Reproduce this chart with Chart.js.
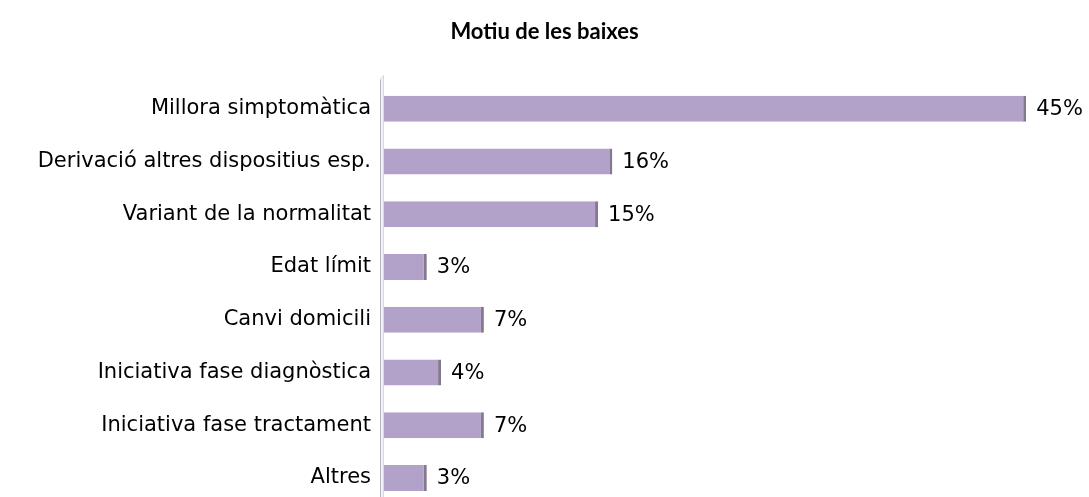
<!DOCTYPE html>
<html>
<head>
<meta charset="utf-8">
<script src="https://cdn.jsdelivr.net/npm/chart.js@4.4.1/dist/chart.umd.min.js"></script>
<style>
  html, body { margin: 0; padding: 0; background: #fff; overflow: hidden; }
  canvas { display: block; }
</style>
</head>
<body>
<canvas id="c" width="1089" height="530"></canvas>
<script>
const titleText = 'Motiu de les baixes';
const categories = [
  'Millora simptomàtica',
  'Derivació altres dispositius esp.',
  'Variant de la normalitat',
  'Edat límit',
  'Canvi domicili',
  'Iniciativa fase diagnòstica',
  'Iniciativa fase tractament',
  'Altres'
];
const values = [45, 16, 15, 3, 7, 4, 7, 3];
const valueLabels = ['45%', '16%', '15%', '3%', '7%', '4%', '7%', '3%'];

const FONT = '"DejaVu Sans", sans-serif';
const TITLE_FONT = 'Lato, "DejaVu Sans", sans-serif';

const wallPlugin = {
  id: 'wall',
  beforeDatasetsDraw(chart) {
    const { ctx, chartArea } = chart;
    const L = chartArea.left;
    ctx.save();
    ctx.fillStyle = '#f3f1f6';
    ctx.beginPath();
    ctx.moveTo(L - 4, chartArea.top - 3);
    ctx.lineTo(L, chartArea.top - 7);
    ctx.lineTo(L, chartArea.bottom + 10);
    ctx.lineTo(L - 4, chartArea.bottom + 10);
    ctx.closePath();
    ctx.fill();
    ctx.strokeStyle = '#b9b2c2';
    ctx.lineWidth = 1;
    ctx.beginPath();
    ctx.moveTo(L - 3.5, chartArea.top - 3);
    ctx.lineTo(L - 3.5, chartArea.bottom + 10);
    ctx.stroke();
    ctx.strokeStyle = '#dcd7e2';
    ctx.beginPath();
    ctx.moveTo(L - 3.5, chartArea.top - 3);
    ctx.lineTo(L - 0.5, chartArea.top - 7);
    ctx.lineTo(L - 0.5, chartArea.bottom + 10);
    ctx.stroke();
    ctx.restore();
  }
};

const labelPlugin = {
  id: 'valueLabels',
  afterDatasetsDraw(chart) {
    const { ctx } = chart;
    const meta = chart.getDatasetMeta(0);
    ctx.save();
    ctx.font = '21px ' + FONT;
    ctx.fillStyle = '#000';
    ctx.textAlign = 'left';
    ctx.textBaseline = 'middle';
    meta.data.forEach((bar, i) => {
      ctx.fillText(valueLabels[i], bar.x + 10, bar.y + 1);
    });
    ctx.restore();
  }
};

new Chart(document.getElementById('c'), {
  type: 'bar',
  data: {
    labels: categories,
    datasets: [{
      data: values,
      backgroundColor: '#b2a1c8',
      borderColor: '#85798f',
      borderWidth: { top: 0, right: 3, bottom: 0, left: 0 },
      borderSkipped: false,
      barPercentage: 0.98,
      categoryPercentage: 0.5
    }]
  },
  options: {
    indexAxis: 'y',
    responsive: false,
    animation: false,
    layout: { padding: { top: 0, right: 0, bottom: 0, left: 0 } },
    plugins: {
      legend: { display: false },
      tooltip: { enabled: false },
      title: {
        display: true,
        text: titleText,
        color: '#000',
        font: { family: TITLE_FONT, size: 22, weight: 'bold' },
        padding: { top: 19, bottom: 37 }
      }
    },
    scales: {
      x: {
        display: false,
        min: 0,
        max: 49.4
      },
      y: {
        grid: { display: false, drawTicks: false },
        border: { display: false },
        ticks: {
          color: '#000',
          padding: 13,
          font: { family: FONT, size: 21 }
        },
        afterFit(scale) { scale.width = 384; }
      }
    }
  },
  plugins: [wallPlugin, labelPlugin]
});
</script>
</body>
</html>
